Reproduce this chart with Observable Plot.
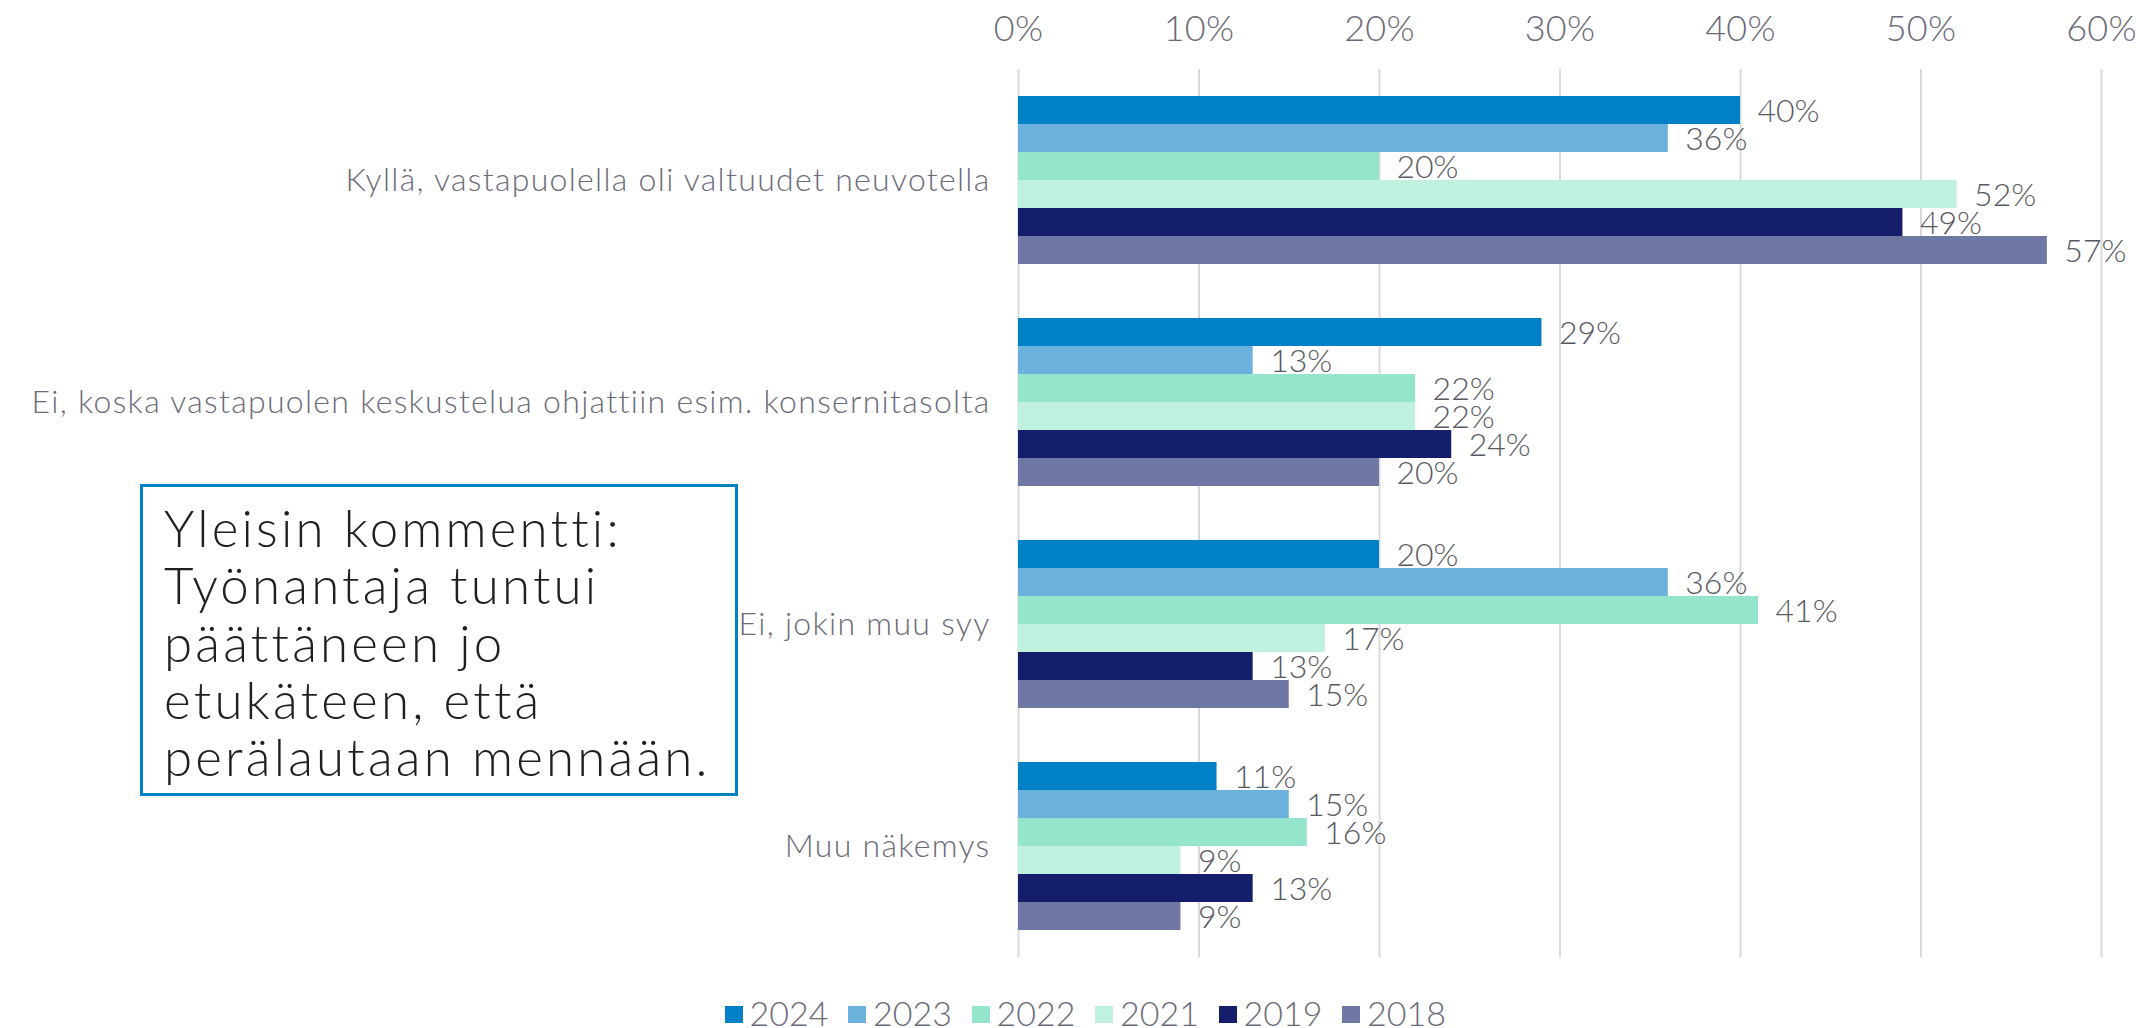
<!DOCTYPE html>
<html>
<head>
<meta charset="utf-8">
<script src="https://cdn.jsdelivr.net/npm/d3@7"></script>
<script src="https://cdn.jsdelivr.net/npm/@observablehq/plot@0.6"></script>
<style>
  html, body { margin: 0; padding: 0; background: #fff; }
  #wrap { position: relative; width: 2136px; height: 1028px; overflow: hidden; font-family: Lato, "Open Sans", sans-serif; }
  #note { position: absolute; left: 140px; top: 484px; width: 592px; height: 306px; border: 3px solid #0080c6; box-sizing: content-box; color: #1f1f1f; font-size: 51px; line-height: 57.3px; letter-spacing: 3.2px; font-weight: 300; }
  #note div { position: absolute; left: 21px; top: 12px; white-space: nowrap; }
  #legend { position: absolute; left: 0; top: 992px; width: 2190px; display: flex; justify-content: center; color: #6b6b78; font-size: 34px; font-weight: 300; }
  #legend .item { display: flex; align-items: center; width: 123.5px; }
  #legend .sw { width: 18px; height: 17px; margin-right: 7px; margin-top: 4px; flex: none; }
  g[aria-label="fy-axis tick label"] text { letter-spacing: 1.3px; }
  g[aria-label="x-axis tick label"] text { letter-spacing: 0.3px; }
</style>
</head>
<body>
<div id="wrap">
  <div id="chart"></div>
  <div id="note"><div>Yleisin kommentti:<br>Työnantaja tuntui<br>päättäneen jo<br>etukäteen, että<br>perälautaan mennään.</div></div>
  <div id="legend"></div>
</div>
<script>
const categories = [
  "Kyllä, vastapuolella oli valtuudet neuvotella",
  "Ei, koska vastapuolen keskustelua ohjattiin esim. konsernitasolta",
  "Ei, jokin muu syy",
  "Muu näkemys"
];
const years = ["2024", "2023", "2022", "2021", "2019", "2018"];
const colors = ["#0080c6", "#6ab1dc", "#94e5cb", "#c0f0de", "#141e6b", "#6f77a4"];
const values2024 = [40, 29, 20, 11];
const values2023 = [36, 13, 36, 15];
const values2022 = [20, 22, 41, 16];
const values2021 = [52, 22, 17, 9];
const values2019 = [49, 24, 13, 13];
const values2018 = [57, 20, 15, 9];
const xTicks = [0, 10, 20, 30, 40, 50, 60];

const series = [values2024, values2023, values2022, values2021, values2019, values2018];
const rows = [];
categories.forEach((c, i) => {
  years.forEach((y, j) => rows.push({category: c, year: y, value: series[j][i]}));
});

const chart = Plot.plot({
  width: 2136,
  height: 990,
  marginTop: 68,
  marginBottom: 32,
  marginLeft: 1018,
  marginRight: 35,
  style: {fontFamily: "Lato, 'Open Sans', sans-serif", background: "transparent", fontWeight: 300},
  x: {domain: [0, 60], axis: null},
  y: {domain: years, paddingInner: 0, paddingOuter: 0.92, axis: null},
  fy: {domain: categories, padding: 0, axis: null},
  color: {domain: years, range: colors},
  marks: [
    Plot.gridX(xTicks, {stroke: "#d9d9d9", strokeOpacity: 1, strokeWidth: 2}),
    Plot.barX(rows, {x: "value", y: "year", fy: "category", fill: "year"}),
    Plot.text(rows, {x: "value", y: "year", fy: "category", text: d => d.value + "%", dx: 17, dy: 1, textAnchor: "start", fontSize: 32, fill: "#595962"}),
    Plot.axisX(xTicks, {anchor: "top", tickSize: 0, tickPadding: 29, fontSize: 36, fill: "#6b6b78", tickFormat: d => d + "%", label: null}),
    Plot.axisFy({anchor: "left", tickSize: 0, tickPadding: 28, fontSize: 32, fill: "#6b6b78", label: null})
  ]
});
document.getElementById("chart").appendChild(chart);

const legend = document.getElementById("legend");
years.forEach((y, i) => {
  const item = document.createElement("div");
  item.className = "item";
  const sw = document.createElement("span");
  sw.className = "sw";
  sw.style.background = colors[i];
  const t = document.createElement("span");
  t.textContent = y;
  item.appendChild(sw);
  item.appendChild(t);
  legend.appendChild(item);
});
</script>
</body>
</html>
